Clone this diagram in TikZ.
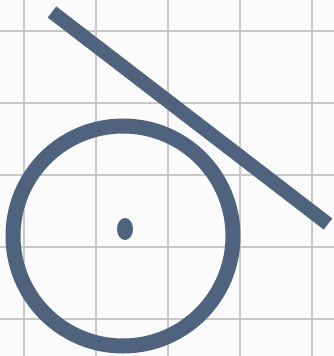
\documentclass[tikz,border=0pt]{standalone}
\definecolor{slate}{RGB}{80,99,126}
\definecolor{gridgray}{RGB}{200,200,200}
\begin{document}
\begin{tikzpicture}[x=1pt, y=-1pt, every path/.style={line cap=butt}]
  \fill[white!97!gray] (0,0) rectangle (334,356);
  \useasboundingbox (0,0) rectangle (334,356);
  \foreach \x in {24,96,168,240,312} \draw[gridgray, line width=1.5] (\x,0) -- (\x,356);
  \foreach \y in {31,103,175,247,319} \draw[gridgray, line width=1.5] (0,\y) -- (334,\y);
  \draw[slate, line width=15] (123,236) circle (110);
  \fill[slate] (125,229) ellipse (8 and 11);
  \draw[slate, line width=14] (52,12) -- (328,224);
\end{tikzpicture}
\end{document}
